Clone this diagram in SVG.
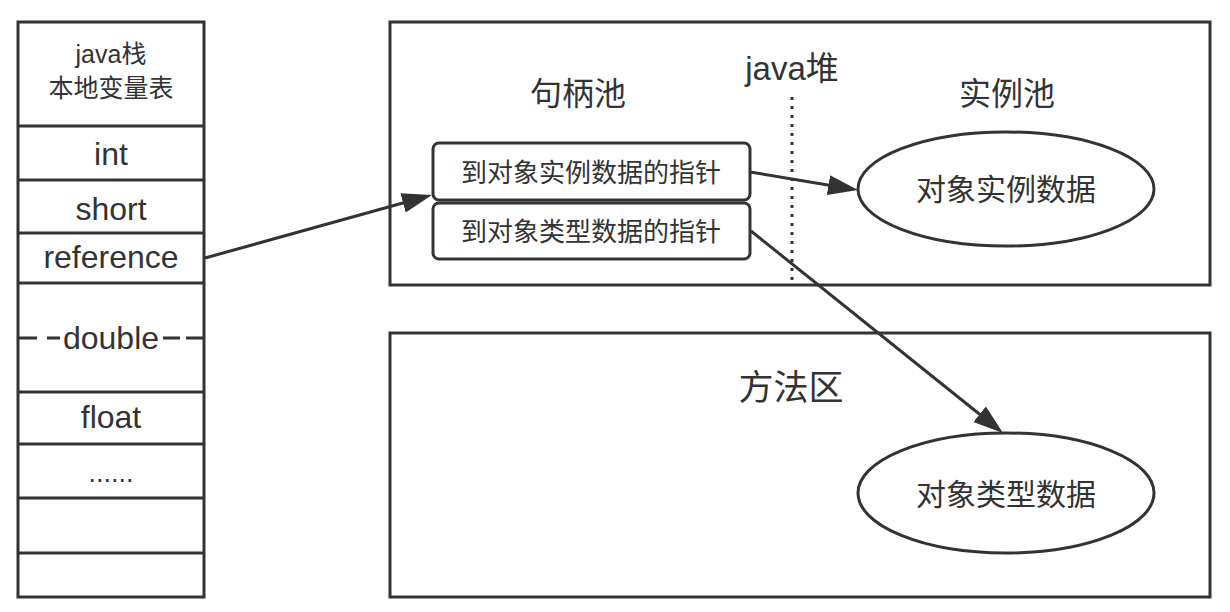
<svg xmlns="http://www.w3.org/2000/svg" width="1230" height="612" viewBox="0 0 1230 612">
<style>
  .ln { fill: none; stroke: #333; stroke-width: 3; }
  .box { fill: #fff; stroke: #333; stroke-width: 3; }
  .t { font-family: "Liberation Sans", "Noto Sans CJK SC", sans-serif; fill: #333; text-anchor: middle; }
  .cn { font-family: "Noto Sans CJK SC", sans-serif; fill: #333; text-anchor: middle; }
  .conn { fill: none; stroke: #333; stroke-width: 3; }
</style>
<defs>
  <marker id="arr" markerUnits="userSpaceOnUse" markerWidth="32" markerHeight="22" refX="10" refY="10" orient="auto">
    <path d="M0,0 L30,10 L0,20 z" fill="#333"/>
  </marker>
</defs>
<rect width="1230" height="612" fill="#fff"/>

<g id="stack">
  <rect class="box" x="18" y="22" width="186" height="575"/>
  <path class="ln" d="M18 126H204M18 180H204M18 233H204M18 283H204M18 392H204M18 444H204M18 498H204M18 553H204"/>
  <path class="ln" d="M18 338H37M47 338H60M163 338H180M186 338H204"/>
  <text class="t" x="111" y="63" font-size="25">java栈</text>
  <text class="cn" x="111" y="97" font-size="25">本地变量表</text>
  <text class="t" x="111" y="165" font-size="32">int</text>
  <text class="t" x="111" y="220" font-size="32">short</text>
  <text class="t" x="111" y="268" font-size="32">reference</text>
  <text class="t" x="111" y="349" font-size="32">double</text>
  <text class="t" x="111" y="428" font-size="32">float</text>
  <text class="t" x="111" y="482" font-size="27">......</text>
</g>

<g id="heap">
  <rect class="box" x="390" y="22" width="820" height="263"/>
  <text class="t" x="792" y="80" font-size="33">java堆</text>
  <line x1="792" y1="97" x2="792" y2="282" stroke="#333" stroke-width="3" stroke-dasharray="3 6"/>
  <text class="cn" x="578" y="105" font-size="32">句柄池</text>
  <text class="cn" x="1007" y="105" font-size="32">实例池</text>
</g>

<g id="handle1">
  <rect class="box" x="433" y="143" width="317" height="57" rx="6"/>
  <text class="cn" x="591" y="182" font-size="26">到对象实例数据的指针</text>
</g>
<g id="handle2">
  <rect class="box" x="433" y="203" width="317" height="56" rx="6"/>
  <text class="cn" x="591" y="241" font-size="26">到对象类型数据的指针</text>
</g>

<g id="instance">
  <ellipse class="box" cx="1006" cy="189" rx="148" ry="57"/>
  <text class="cn" x="1006" y="200" font-size="30">对象实例数据</text>
</g>

<g id="method">
  <rect class="box" x="390" y="333" width="820" height="264"/>
  <text class="cn" x="791" y="400" font-size="35">方法区</text>
</g>

<g id="typedata">
  <ellipse class="box" cx="1006" cy="493" rx="148" ry="60"/>
  <text class="cn" x="1006" y="505" font-size="30">对象类型数据</text>
</g>

<g id="connectors">
  <line class="conn" x1="205" y1="258" x2="412.7" y2="200.3" marker-end="url(#arr)"/>
  <line class="conn" x1="750" y1="172" x2="838.3" y2="186.7" marker-end="url(#arr)"/>
  <line class="conn" x1="751" y1="231" x2="987.4" y2="420.5" marker-end="url(#arr)"/>
</g>
</svg>
